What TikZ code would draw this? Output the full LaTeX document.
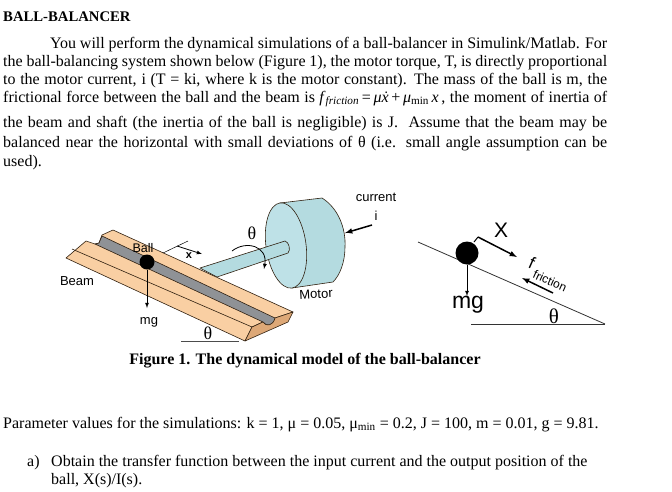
\documentclass[tikz,border=0pt]{standalone}
\usepackage{fontspec}
\setmainfont{Liberation Serif}
\setsansfont{Liberation Sans}
\newcommand{\fullline}[2]{\makebox[#1pt][s]{#2}}
\definecolor{beamtop}{HTML}{F9CFA3}
\definecolor{beamend}{HTML}{DDA877}
\definecolor{groove}{HTML}{8F9296}
\definecolor{motorside}{HTML}{B4DBE0}
\definecolor{motorface}{HTML}{BEE1E7}
\tikzstyle{para}=[inner sep=0pt, anchor=base west, font=\fontsize{16}{18}\selectfont]
\tikzstyle{lab}=[inner sep=0pt, font=\sffamily\fontsize{13}{15}\selectfont]
\tikzstyle{big}=[inner sep=0pt, font=\sffamily\fontsize{23}{25}\selectfont]
\tikzstyle{ang}=[inner sep=0pt, font=\fontsize{18}{20}\selectfont]
\tikzstyle{part}=[draw=black!75!brown, line width=0.6pt, line join=round]
\tikzstyle{edge}=[->, line width=0.8pt, -latex]
\tikzstyle{heavy}=[->, line width=1.5pt, -latex]
\tikzstyle{ballnode}=[circle, fill=black, inner sep=0pt]
\begin{document}
\begin{tikzpicture}[x=1pt,y=-1pt]
	\useasboundingbox (0,0) rectangle (672,491);

	%The text above the figure
	\draw (3,21) node[para,font=\fontsize{14.7}{18}\selectfont\bfseries] (title) {BALL-BALANCER};
	\draw (50,48) node[para] (p1) {\fullline{557}{You will perform the dynamical simulations of a ball-balancer in Simulink/Matlab. For}};
	\draw (3,66) node[para] (p2) {\fullline{604}{the ball-balancing system shown below (Figure 1), the motor torque, T, is directly proportional}};
	\draw (3,84) node[para] (p3) {\fullline{604}{to the motor current, i (T = ki, where k is the motor constant). The mass of the ball is m, the}};
	\draw (3,102) node[para] (p4) {\fullline{604}{frictional force between the ball and the beam is \textit{f}\textsubscript{\textit{friction}}{\,=\,}\textit{μẋ}{\,+\,}\textit{μ}\textsubscript{min}\,\textit{x}\,, the moment of inertia of}};
	\draw (3,127) node[para] (p5) {\fullline{604}{the beam and shaft (the inertia of the ball is negligible) is J. \ Assume that the beam may be}};
	\draw (3,147) node[para] (p6) {\fullline{604}{balanced near the horizontal with small deviations of θ (i.e. small angle assumption can be}};
	\draw (3,166) node[para] (p7) {used).};

	%The motor and the shaft
	\draw[part,fill=motorside] (280,203) -- (322,198) .. controls (338,208) and (346,228) .. (345,247) .. controls (345,262) and (340,275) .. (333,282) -- (292,288) -- cycle;
	\draw[part,fill=motorface] (286,245.5) ellipse [x radius=20, y radius=43, rotate=8];
	\draw[part,fill=motorside] (200,268) -- (285,241) .. controls (289,242) and (291,250) .. (288,253) -- (217,277) -- cycle;

	%The beam
	\draw[part,fill=beamtop] (66,258) -- (86,241) -- (95,244) -- (99,243) -- (102,235) -- (113,230) -- (293,312) -- (275,318) -- (270,327) -- (263,322) -- (252,327) -- (245,341) -- cycle;
	\draw[part,fill=groove] (95,244) -- (99,243) -- (102,236) -- (275,318) .. controls (274,325) and (268,328) .. (263,322) -- cycle;
	\draw[part,fill=beamend] (245,341) -- (252,327) -- (263,322) .. controls (266,327) and (273,326) .. (275,318) -- (293,312) -- (288,322) -- cycle;
	\draw[part] (72,249) -- (252,327);

	%The beam labels
	\draw (147,262) node[ballnode,minimum size=15pt] (ball) {};
	\draw (143,248) node[lab,font=\sffamily\fontsize{12.5}{15}\selectfont] (balllab) {Ball};
	\draw (77,281) node[lab] (beamlab) {Beam};
	\draw (149,322) node[lab] (mg) {mg};
	\draw (189,256) node[lab,font=\sffamily\bfseries\fontsize{11}{13}\selectfont] (xlab) {x};
	\draw (316,294) node[lab,rotate=3] (motorlab) {Motor};
	\draw (376,197) node[lab] (current) {current};
	\draw (376,216) node[lab] (ilab) {i};
	\draw (252,233) node[ang] (thetatop) {θ};
	\draw (208,333) node[ang] (thetabeam) {θ};

	\coordinate (mgend) at (147,308);
	\coordinate (ticka) at (163,253);
	\coordinate (tickb) at (188,241);
	\coordinate (xa) at (177,246);
	\coordinate (xb) at (202,254);
	\coordinate (ia) at (372,225);
	\coordinate (ib) at (345,233);
	\coordinate (rota) at (232,251);
	\coordinate (rotb) at (264,269);
	\coordinate (basea) at (181,341);
	\coordinate (baseb) at (239,341);

	\draw[edge] (ball) -- (mgend);
	\draw[black,line width=0.5pt] (ticka) -- (tickb);
	\draw[edge] (xa) -- (xb);
	\draw[heavy] (ia) -- (ib);
	\draw[edge] (rota) .. controls (246,240) and (268,246) .. (rotb);
	\draw[black!70,line width=0.6pt] (basea) -- (baseb);

	%The free body sketch
	\coordinate (slopea) at (418,242);
	\coordinate (slopeb) at (605,324);
	\coordinate (floora) at (471,324);
	\coordinate (elbowa) at (474,242);
	\coordinate (elbowb) at (478,237);
	\coordinate (xend) at (517,257);
	\coordinate (fa) at (553,293);
	\coordinate (fb) at (522,278);
	\coordinate (wend) at (467,296);

	\draw[black!80,line width=0.8pt] (slopea) -- (slopeb);
	\draw[black!80,line width=0.8pt] (floora) -- (slopeb);
	\draw (467,253) node[ballnode,minimum size=23pt] (mass) {};
	\draw[edge] (mass) -- (wend);
	\draw[line width=1pt] (elbowa) -- (elbowb);
	\draw[heavy] (elbowb) -- (xend);
	\draw[heavy] (fa) -- (fb);
	\draw (468,305) node[big] (mgbig) {mg};
	\draw (501,230) node[big,font=\sffamily\fontsize{21}{23}\selectfont] (xbig) {X};
	\draw (532,263) node[big,rotate=-24,font=\sffamily\fontsize{17}{19}\selectfont] (fbig) {f};
	\draw (550,281) node[lab,rotate=-24,font=\sffamily\fontsize{12}{14}\selectfont] (friction) {friction};
	\draw (554,316) node[ang,font=\fontsize{21}{23}\selectfont] (thetaslope) {θ};

	%The text below the figure
	\draw (305,361) node[inner sep=0pt,font=\fontsize{16}{18}\selectfont\bfseries] (caption) {Figure 1. The dynamical model of the ball-balancer};
	\draw (3,428) node[para] (params) {Parameter values for the simulations: k = 1, μ = 0.05, μ\textsubscript{min} = 0.2, J = 100, m = 0.01, g = 9.81.};
	\draw (27,466) node[para] (qa) {a)};
	\draw (51,466) node[para] (qline) {Obtain the transfer function between the input current and the output position of the};
	\draw (51,484) node[para] (qlineb) {ball, X(s)/I(s).};
\end{tikzpicture}
\end{document}
